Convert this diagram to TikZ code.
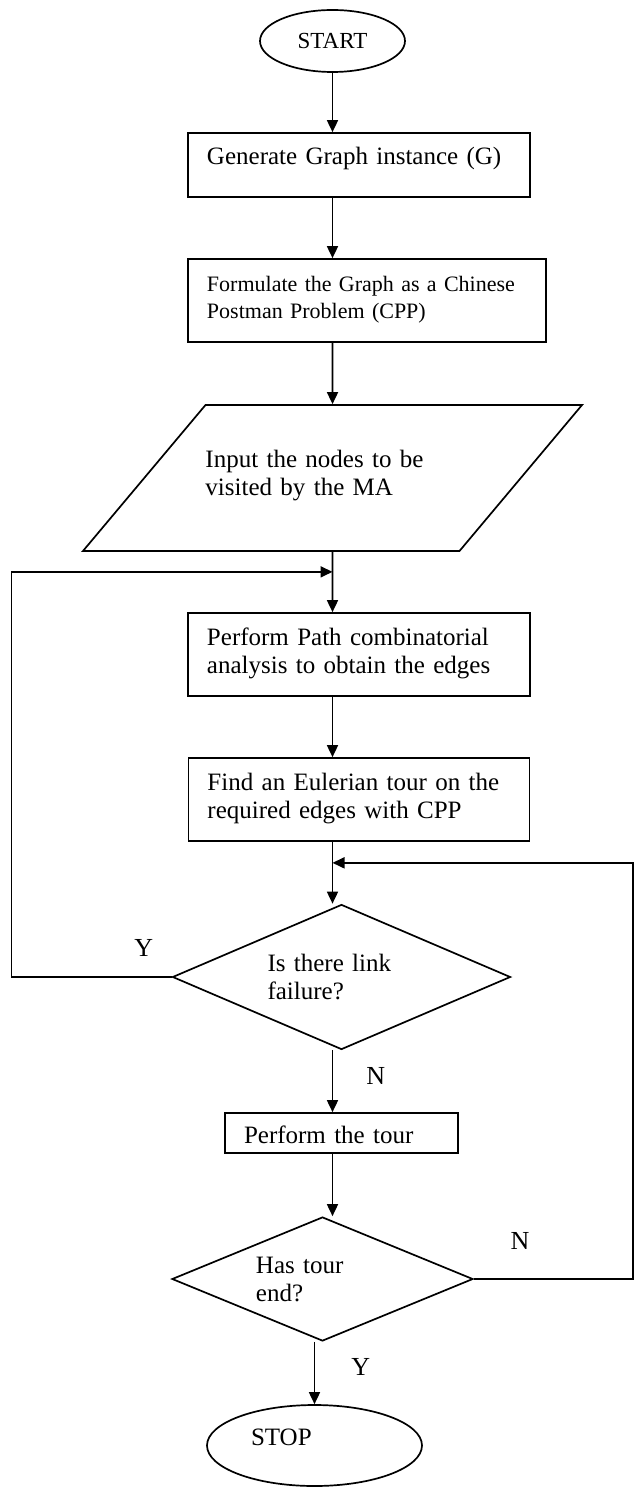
\documentclass[tikz,border=0pt]{standalone}
\usepackage{fontspec}
\setmainfont{Liberation Serif}
\usetikzlibrary{shapes.geometric,positioning,arrows.meta}

\begin{document}
\begin{tikzpicture}[on grid, line width=0.85pt, >={Triangle[length=6pt,width=5.5pt]},
	terminal/.style={draw, ellipse, inner sep=0pt},
	process/.style={draw, rectangle, align=left, inner xsep=9.5pt, inner ysep=0pt, text height=16pt, text depth=25.5pt, font=\fontsize{12.5}{14}\selectfont},
	io/.style={draw, trapezium, trapezium left angle=50, trapezium right angle=130, align=left, inner sep=0pt, font=\fontsize{12.5}{14}\selectfont},
	decision/.style={draw, diamond, align=left, inner sep=0pt, font=\fontsize{12.5}{14}\selectfont},
	answer/.style={font=\fontsize{13}{14}\selectfont}]
	\useasboundingbox (-166.25pt,20.5pt) rectangle (150.25pt,-723pt);

	\node[terminal, minimum width=72.5pt, minimum height=31pt, font=\fontsize{11.5}{13}\selectfont] (start) {START};
	\node[process, text width=152pt, text depth=16pt] (gen) [below right=62pt and 13.25pt of start] {Generate Graph instance (G)};
	\node[process, text width=160pt, font=\fontsize{11}{13.5}\selectfont] (form) [below right=67.75pt and 4pt of gen] {Formulate the Graph as a Chinese\\Postman Problem (CPP)};
	\node[io, text width=127pt, text height=31pt, text depth=42pt] (input) [below left=88.75pt and 17.25pt of form] {Input the nodes to be\\visited by the MA};
	\node[process, text width=152pt] (path) [below right=88.25pt and 13.25pt of input] {Perform Path combinatorial\\analysis to obtain the edges};
	\node[process, text width=151.5pt] (euler) [below=72.5pt of path] {Find an Eulerian tour on the\\required edges with CPP};
	\node[decision, text width=74pt, aspect=2.33, minimum width=169pt, minimum height=72.5pt] (link) [below left=88.75pt and 8.75pt of euler] {Is there link\\failure?};
	\node[process, text width=97.5pt, text height=15pt, text depth=5pt] (tour) [below=78pt of link] {Perform the tour};
	\node[decision, text width=66.5pt, aspect=2.43, minimum width=150.5pt, minimum height=62pt] (ended) [below left=73pt and 9.5pt of tour] {Has tour\\end?};
	\node[terminal, text width=63.5pt, align=left, text height=6pt, text depth=5.75pt, minimum width=107.5pt, minimum height=40.5pt, font=\fontsize{12.5}{14}\selectfont] (stop) [below left=83.25pt and 4pt of ended] {STOP};

	\coordinate (loopin) at ([yshift=-10pt]input.south);
	\coordinate (back) at ([yshift=-10.5pt]euler.south -| start);

	\path[->]
	(start) edge (start |- gen.north)
	(gen.south -| start) edge (form.north -| start)
	(form.south -| start) edge (input.north)
	(input.south) edge (path.north -| input)
	(path.south -| start) edge (euler.north -| start)
	(euler.south -| start) edge (link.north -| start)
	(link.south -| start) edge node[answer, pos=0.41, anchor=west, xshift=13.2pt] {N} (tour.north -| start)
	(tour.south -| start) edge (ended.north -| start)
	(ended.south -| stop) edge node[answer, pos=0.41, anchor=west, xshift=14.7pt] {Y} (stop);

	% link failure: go back to the path analysis
	\draw[->] (link.west) -- node[answer, pos=0.175, anchor=south, yshift=6.4pt] {Y} ([xshift=-80pt]link.west) |- (loopin);
	% tour not ended: check the links again
	\draw[->] (ended.east) -- node[answer, pos=0.29, anchor=south, yshift=10.9pt] {N} ([xshift=79.5pt]ended.east) |- (back);
\end{tikzpicture}
\end{document}
